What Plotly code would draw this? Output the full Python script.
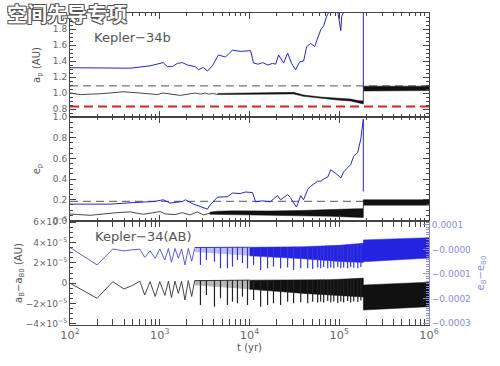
import numpy as np
import plotly.graph_objects as go

# ---------------- data ----------------
T_SPAN = [100, 1_000_000]

# Panel 1: planet semimajor axis a_p (AU)
ap_blue_t = [100, 468, 783, 1094, 1213, 1380, 1570, 1784, 2029, 2493, 2693, 3063, 3397, 3862,
             4508, 5397, 6461, 7931, 10260, 11090, 12500, 14000, 16000, 18000, 19540, 21100,
             23990, 26600, 29450, 32650, 36200, 40100, 43350, 48070, 53260, 57540, 62130,
             67100, 72460, 78300, 86900, 96200, 101300, 104000, 106600, 118300, 134400,
             173800, 185500, 185500]
ap_blue = [1.316, 1.31, 1.34, 1.38, 1.33, 1.33, 1.37, 1.38, 1.35, 1.33, 1.29, 1.32, 1.275, 1.34,
           1.475, 1.45, 1.535, 1.52, 1.53, 1.375, 1.36, 1.38, 1.35, 1.37, 1.36, 1.475,
           1.375, 1.50, 1.37, 1.29, 1.39, 1.40, 1.58, 1.62, 1.58, 1.69, 1.79,
           1.84, 1.96, 2.03, 2.10, 2.02, 1.87, 1.78, 1.96, 2.05, 2.2,
           2.3, 2.3, 1.06]
ap_black_t = [100, 130, 216, 390, 606, 936, 1090, 1310, 1690, 2180, 2500, 2840, 3200, 3490, 3900, 4400]
ap_black = [1.0, 0.98, 0.99, 1.015, 1.0, 0.98, 1.0, 0.99, 0.97, 0.99, 1.0, 0.985, 1.0, 0.985, 0.995, 0.98]
ap_band_t = [4400, 7900, 11700, 17200, 31000, 40000, 62100, 96200, 134000, 161000, 185500,
             185500, 400000, 1000000]
ap_band_hi = [0.995, 1.0, 1.008, 1.003, 1.008, 0.975, 0.95, 0.935, 0.925, 0.905, 0.90,
              1.085, 1.085, 1.085]
ap_band_lo = [0.98, 0.985, 0.985, 0.988, 0.988, 0.958, 0.932, 0.912, 0.90, 0.877, 0.862,
              1.025, 1.03, 1.03]
AP_OBS = 1.09      # grey dashed
AP_CRIT = 0.83     # red dashed

# Panel 2: planet eccentricity e_p
ep_blue_t = [100, 280, 505, 860, 1094, 1310, 1784, 1930, 2370, 2840, 3400, 3640, 4400, 5680,
             6460, 7900, 9000, 10800, 11700, 14000, 17000, 20500, 22200, 26600, 28700, 31000,
             33400, 37200, 40000, 44500, 48000, 57500, 62100, 67100, 74400, 80400, 86900,
             96200, 104000, 112000, 124000, 134000, 145000, 161000, 174000, 183000, 185500, 185500]
ep_blue = [0.158, 0.158, 0.173, 0.183, 0.2, 0.168, 0.183, 0.2, 0.158, 0.135, 0.11, 0.15, 0.225, 0.23,
           0.265, 0.26, 0.275, 0.27, 0.18, 0.19, 0.18, 0.24, 0.2, 0.25, 0.22, 0.17,
           0.13, 0.24, 0.2, 0.3, 0.33, 0.38, 0.38, 0.40, 0.42, 0.49, 0.47,
           0.44, 0.41, 0.47, 0.51, 0.54, 0.62, 0.66, 0.79, 0.92, 0.98, 0.28]
ep_black_t = [100, 167, 335, 468, 655, 1010, 1150, 1490, 1780, 2180, 2620, 3070, 3600]
ep_black = [0.063, 0.05, 0.076, 0.083, 0.06, 0.086, 0.063, 0.057, 0.076, 0.054, 0.083, 0.054, 0.07]
ep_band_t = [3600, 4400, 6600, 11100, 17200, 37200, 80400, 174000, 185500, 185500, 1000000]
ep_band_hi = [0.08, 0.09, 0.093, 0.092, 0.092, 0.097, 0.105, 0.115, 0.115, 0.20, 0.20]
ep_band_lo = [0.06, 0.052, 0.055, 0.05, 0.045, 0.045, 0.04, 0.03, 0.03, 0.148, 0.148]
EP_OBS = 0.185

# Panel 3 (units of 1e-5): binary a_B - a_B0 (black, left) and e_B - e_B0 (blue, right)
ab_early_t = [100, 200, 300, 400, 500, 600, 680, 780, 890, 1000, 1140, 1250, 1350, 1480,
              1610, 1750, 1910, 2080, 2270, 2450]
ab_early = [0.0, -1.48, 0.15, -0.57, -0.2, 0.2, -1.16, 0.15, -1.3, 0.15, -1.2, 0.2, -1.4, 0.2,
            -1.0, 0.2, -1.65, 0.25, -1.3, 0.25]
eb_early = [0.8, -6.3, 0.2, -0.6, -0.1, 0.1, -3.2, -0.6, -3.6, 0.2, -4.3, 0.4, -5.2, 0.4,
            -3.6, 0.2, -6.3, 0.4, -4.8, 0.4]

spike_t = [2840, 3310, 4070, 4750, 5680, 6460, 7340, 8350, 9500, 11100, 13300, 15900, 18500,
           22200, 26600, 31000, 37200, 44500, 50600, 57500, 62100, 67100, 74400, 80400, 86900,
           96200, 104000, 112000, 124000, 134000, 145000, 161000, 174000]
ab_spike = [-2.14, -1.16, -2.3, -1.48, -2.14, -1.81, -1.97, -1.32, -2.14, -1.65, -2.3, -2.14, -1.97,
            -2.14, -1.81, -1.97, -1.87, -1.97, -1.81, -1.9, -1.8, -1.9, -1.75, -1.9, -1.8,
            -1.95, -1.8, -1.9, -1.75, -1.9, -1.8, -1.85, -1.7]
eb_spike = [-6.3, -4.3, -5.0, -7.7, -7.7, -7.0, -4.3, -5.6, -7.7, -6.3, -8.4, -7.7, -7.0,
            -7.7, -7.4, -8.4, -7.7, -7.7, -8.0, -7.4, -7.7, -7.2, -7.7, -7.4, -7.7,
            -7.2, -7.7, -7.4, -7.7, -7.2, -7.5, -7.7, -7.2]

# dense envelopes; first segment (sparser, greyer) ends at 10000 yr
ab_band_t = [2450, 5000, 10000, 20000, 40000, 80000, 150000, 185500, 185500, 400000, 1000000]
ab_band_hi = [0.25, 0.3, 0.3, 0.3, 0.3, 0.35, 0.45, 0.5, -0.18, -0.05, 0.1]
ab_band_lo = [-0.2, -0.4, -0.6, -0.8, -1.0, -1.2, -1.3, -1.35, -2.63, -2.5, -2.3]
eb_band_t = [2450, 10000, 40000, 100000, 185500, 185500, 400000, 1000000]
eb_band_hi = [0.8, 0.9, 1.1, 1.7, 2.5, 3.9, 4.3, 4.8]
eb_band_lo = [-1.0, -2.6, -3.8, -4.9, -5.3, -5.0, -4.3, -3.5]
AB_SPLIT = 2   # index of 10000 yr in ab_band_t
EB_SPLIT = 1   # index of 10000 yr in eb_band_t
AB_ENV_END = 8
EB_ENV_END = 5

SCALE = 1e-5

# ---------------- styling ----------------
BLUE = "#2323e0"
BLACK = "#111111"
GREY_TXT = "#666666"
AXC = "#444444"
FONT = "DejaVu Sans"

fig = go.Figure()


def add_line(x, y, color, width, xa, ya, dash=None):
    fig.add_trace(go.Scatter(x=x, y=y, mode="lines", xaxis=xa, yaxis=ya,
                             line=dict(color=color, width=width, dash=dash),
                             hoverinfo="skip", showlegend=False))


def add_band(t, hi, lo, color, xa, ya, scale=1.0, opacity=1.0, lw=0.5):
    xs = list(t) + list(t)[::-1]
    ys = [v * scale for v in hi] + [v * scale for v in lo][::-1]
    fig.add_trace(go.Scatter(x=xs, y=ys, mode="lines", fill="toself", fillcolor=color,
                             line=dict(color=color, width=lw), opacity=opacity,
                             xaxis=xa, yaxis=ya, hoverinfo="skip", showlegend=False))


def add_spikes(ts, lows, env_t, env_hi, color, xa, ya, scale):
    lt = np.log10(env_t)
    xs, ys = [], []
    for t, v in zip(ts, lows):
        top = float(np.interp(np.log10(t), lt, env_hi))
        xs += [t, t, None]
        ys += [top * scale, v * scale, None]
    fig.add_trace(go.Scatter(x=xs, y=ys, mode="lines", connectgaps=False,
                             line=dict(color=color, width=1.2), xaxis=xa, yaxis=ya,
                             hoverinfo="skip", showlegend=False))


# Panel 1
add_line(T_SPAN, [AP_OBS, AP_OBS], "#777777", 1.2, "x", "y", dash="8px,5px")
add_line(T_SPAN, [AP_CRIT, AP_CRIT], "#e02020", 2, "x", "y", dash="9px,5px")
add_line(ap_black_t, ap_black, "#333333", 0.9, "x", "y")
add_band(ap_band_t, ap_band_hi, ap_band_lo, BLACK, "x", "y")
add_line(ap_blue_t, ap_blue, BLUE, 1, "x", "y")

# Panel 2
add_line(T_SPAN, [EP_OBS, EP_OBS], "#777777", 1.2, "x2", "y2", dash="8px,5px")
add_line(ep_black_t, ep_black, "#333333", 0.9, "x2", "y2")
add_band(ep_band_t, ep_band_hi, ep_band_lo, BLACK, "x2", "y2")
add_line(ep_blue_t, ep_blue, BLUE, 1, "x2", "y2")

# Panel 3
add_line(ab_early_t, [v * SCALE for v in ab_early], "#333333", 0.9, "x3", "y3")
add_band(ab_band_t[:AB_SPLIT + 1], ab_band_hi[:AB_SPLIT + 1], ab_band_lo[:AB_SPLIT + 1],
         BLACK, "x3", "y3", scale=SCALE, opacity=0.3, lw=0)
add_band(ab_band_t[AB_SPLIT:], ab_band_hi[AB_SPLIT:], ab_band_lo[AB_SPLIT:],
         BLACK, "x3", "y3", scale=SCALE)
add_line(ab_band_t[:AB_SPLIT + 1], [v * SCALE for v in ab_band_hi[:AB_SPLIT + 1]], "#333333", 1, "x3", "y3")
add_spikes(spike_t, ab_spike, ab_band_t[:AB_ENV_END], ab_band_hi[:AB_ENV_END], "#222222", "x3", "y3", SCALE)
add_line(ab_early_t, [v * SCALE for v in eb_early], "#4a4ae0", 0.9, "x3", "y4")
add_band(eb_band_t[:EB_SPLIT + 1], eb_band_hi[:EB_SPLIT + 1], eb_band_lo[:EB_SPLIT + 1],
         BLUE, "x3", "y4", scale=SCALE, opacity=0.3, lw=0)
add_band(eb_band_t[EB_SPLIT:], eb_band_hi[EB_SPLIT:], eb_band_lo[EB_SPLIT:],
         BLUE, "x3", "y4", scale=SCALE)
add_line(eb_band_t[:EB_SPLIT + 1], [v * SCALE for v in eb_band_hi[:EB_SPLIT + 1]], "#3535e0", 1, "x3", "y4")
add_spikes(spike_t, eb_spike, eb_band_t[:EB_ENV_END], eb_band_hi[:EB_ENV_END], "#3535e0", "x3", "y4", SCALE)

tickfont = dict(family=FONT, size=9, color=GREY_TXT)
titlefont = dict(family=FONT, size=10, color="#555555")
common = dict(showline=True, linecolor=AXC, linewidth=1, ticks="inside", ticklen=6,
              tickcolor=AXC, showgrid=False, zeroline=False, tickfont=tickfont,
              automargin=False)

xcommon = dict(common, type="log", range=[2, 6], dtick=1, exponentformat="power",
               mirror="allticks",
               minor=dict(ticks="inside", ticklen=3, tickcolor=AXC, showgrid=False))

fig.update_layout(
    width=500, height=366,
    margin=dict(l=70, r=71, t=13, b=41),
    paper_bgcolor="white", plot_bgcolor="white",
    font=dict(family=FONT, size=10, color=GREY_TXT),
    showlegend=False,
    xaxis=dict(xcommon, anchor="y", showticklabels=False, matches="x3"),
    xaxis2=dict(xcommon, anchor="y2", showticklabels=False, matches="x3"),
    xaxis3=dict(xcommon, anchor="y3", showticklabels=True,
                title=dict(text="t (yr)", font=titlefont, standoff=2)),
    yaxis=dict(common, domain=[2 / 3, 1], anchor="x", range=[0.7, 2.0], mirror="allticks",
               tickvals=[0.8, 1.0, 1.2, 1.4, 1.6, 1.8], ticktext=["0.8", "1.0", "1.2", "1.4", "1.6", "1.8"],
               minor=dict(tickmode="linear", tick0=0, dtick=0.05, ticks="inside", ticklen=3, tickcolor=AXC),
               title=dict(text="a<sub>p</sub> (AU)", font=titlefont, standoff=10)),
    yaxis2=dict(common, domain=[1 / 3, 2 / 3], anchor="x2", range=[-0.005, 1.0], mirror="allticks",
                tickvals=[0, 0.2, 0.4, 0.6, 0.8, 1.0], ticktext=["0.0", "0.2", "0.4", "0.6", "0.8", "1.0"],
                minor=dict(tickmode="linear", tick0=0, dtick=0.05, ticks="inside", ticklen=3, tickcolor=AXC),
                title=dict(text="e<sub>p</sub>", font=titlefont, standoff=10)),
    yaxis3=dict(common, domain=[0, 1 / 3], anchor="x3", range=[-4.1e-5, 6.1e-5], mirror=False,
                tickvals=[-4e-5, -2e-5, 0, 2e-5, 4e-5, 6e-5],
                ticktext=["−4×10<sup>−5</sup>", "−2×10<sup>−5</sup>", "0",
                          "2×10<sup>−5</sup>", "4×10<sup>−5</sup>", "6×10<sup>−5</sup>"],
                minor=dict(tickmode="linear", tick0=0, dtick=0.5e-5, ticks="inside", ticklen=3, tickcolor=AXC),
                title=dict(text="a<sub>B</sub>−a<sub>B0</sub> (AU)", font=titlefont, standoff=1)),
    yaxis4=dict(common, overlaying="y3", side="right", anchor="x3", range=[-3.08e-4, 1.16e-4],
                linecolor="#8a8ad8", tickcolor="#8a8ad8",
                tickfont=dict(family=FONT, size=9, color="#8a8ad8"),
                tickvals=[-3e-4, -2e-4, -1e-4, 0, 1e-4],
                ticktext=["−0.0003", "−0.0002", "−0.0001", "−0.0000", "0.0001"],
                minor=dict(tickmode="linear", tick0=0, dtick=1e-5, ticks="inside", ticklen=3, tickcolor="#8a8ad8"),
                title=dict(text="e<sub>B</sub>−e<sub>B0</sub>", font=dict(family=FONT, size=10, color="#8a8ad8"),
                           standoff=6)),
)

fig.add_annotation(text="Kepler−34b", xref="paper", yref="paper", x=0.061, y=0.923,
                   xanchor="left", yanchor="middle", showarrow=False,
                   font=dict(family=FONT, size=13, color="#555555"))
fig.add_annotation(text="Kepler−34(AB)", xref="paper", yref="paper", x=0.064, y=0.283,
                   xanchor="left", yanchor="middle", showarrow=False,
                   font=dict(family=FONT, size=13, color="#555555"))
fig.add_annotation(text="<b>空间先导专项</b>", xref="paper", yref="paper", x=-0.181, y=1.0,
                   xanchor="left", yanchor="middle", showarrow=False,
                   font=dict(family="Noto Sans CJK SC", size=20, color="white",
                             shadow="-1px -1px 0 #555, 1px -1px 0 #555, -1px 1px 0 #555, 1px 1px 0 #555"))

fig.write_html("out.html", config={"displayModeBar": False},
               post_script="document.body.style.margin='0';")
